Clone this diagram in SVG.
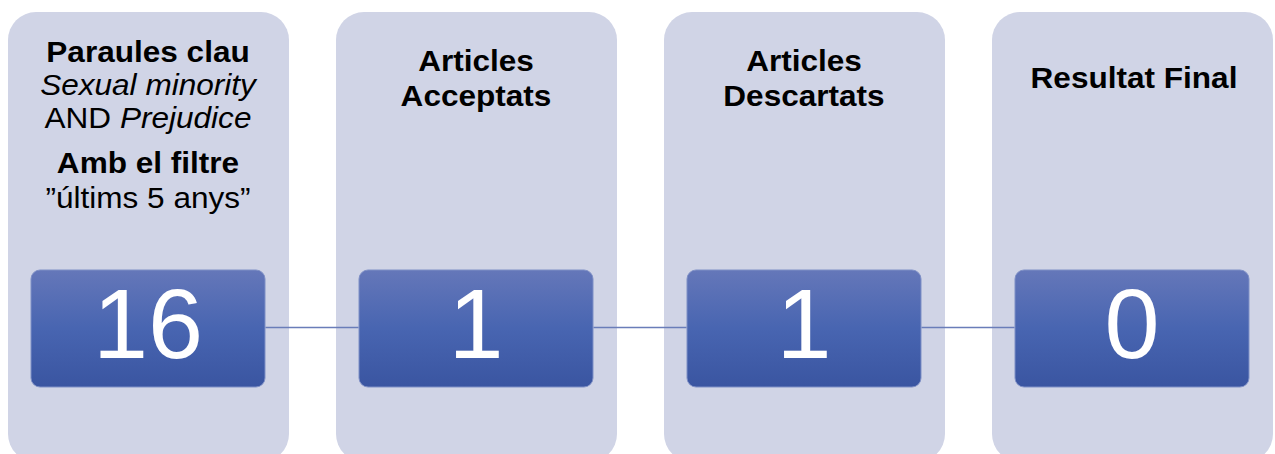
<svg xmlns="http://www.w3.org/2000/svg" width="1275" height="454" viewBox="0 0 1275 454">
<defs>
<linearGradient id="boxGrad" x1="0" y1="0" x2="0" y2="1">
<stop offset="0" stop-color="#6577b9"/>
<stop offset="0.5" stop-color="#4865b1"/>
<stop offset="1" stop-color="#3a55a1"/>
</linearGradient>
<style>
.panel{fill:#d0d4e6}
.box{fill:url(#boxGrad);stroke:#7f90c6;stroke-width:1}
.num{font-family:"Liberation Sans",Arial,sans-serif;font-size:99px;fill:#ffffff;text-anchor:middle}
.hd{font-family:"Liberation Sans",Arial,sans-serif;font-size:29.5px;fill:#000000;text-anchor:middle}
.b{font-weight:bold}
.i{font-style:italic}
.conn{stroke:#6a7db9;stroke-width:1.5;fill:none}
</style>
</defs>
<rect width="1275" height="454" fill="#ffffff"/>
<g id="node-1">
<rect class="panel" x="8" y="12" width="281" height="450" rx="28"/>
<g transform="translate(148,0) scale(1.07,1)">
<text class="hd b" x="0" y="62">Paraules clau</text>
<text class="hd i" x="0" y="95">Sexual minority</text>
<text class="hd" x="0" y="128">AND <tspan class="i">Prejudice</tspan></text>
<text class="hd b" x="0" y="173">Amb el filtre</text>
<text class="hd" x="0" y="208">”últims 5 anys”</text>
</g>
<rect class="box" x="31" y="270" width="234" height="117" rx="9"/>
<text class="num" x="148" y="358">16</text>
</g>
<g id="node-2">
<rect class="panel" x="336" y="12" width="281" height="450" rx="28"/>
<g transform="translate(476,0) scale(1.07,1)">
<text class="hd b" x="0" y="71">Articles</text>
<text class="hd b" x="0" y="106">Acceptats</text>
</g>
<rect class="box" x="359" y="270" width="234" height="117" rx="9"/>
<text class="num" x="476" y="358">1</text>
</g>
<g id="node-3">
<rect class="panel" x="664" y="12" width="281" height="450" rx="28"/>
<g transform="translate(804,0) scale(1.07,1)">
<text class="hd b" x="0" y="71">Articles</text>
<text class="hd b" x="0" y="106">Descartats</text>
</g>
<rect class="box" x="687" y="270" width="234" height="117" rx="9"/>
<text class="num" x="804" y="358">1</text>
</g>
<g id="node-4">
<rect class="panel" x="992" y="12" width="281" height="450" rx="28"/>
<g transform="translate(1134,0) scale(1.07,1)">
<text class="hd b" x="0" y="88">Resultat Final</text>
</g>
<rect class="box" x="1015" y="270" width="234" height="117" rx="9"/>
<text class="num" x="1132" y="358">0</text>
</g>
<g id="connectors">
<line class="conn" x1="265.5" y1="327.5" x2="358.5" y2="327.5"/>
<line class="conn" x1="593.5" y1="327.5" x2="686.5" y2="327.5"/>
<line class="conn" x1="921.5" y1="327.5" x2="1014.5" y2="327.5"/>
</g>
</svg>
